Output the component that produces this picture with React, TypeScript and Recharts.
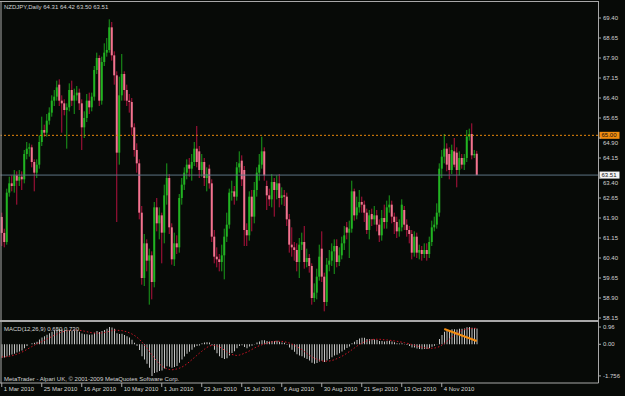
import React from 'react';
import { ComposedChart, Bar, Line, XAxis, YAxis, ReferenceLine } from 'recharts';

// NZDJPY daily candles, 1 Mar 2010 .. late Nov 2010
const opens = [
  61.94, 61.34, 61.0, 62.85, 63.2, 63.1, 63.5, 63.3, 63.45, 63.35, 64.3, 64.5, 64.55, 64.0, 63.6, 63.9,
  64.75, 65.2, 65.1, 65.55, 65.85, 66.3, 66.45, 66.9, 66.3, 66.2, 65.95, 66.05, 66.7, 66.3, 66.5, 66.6,
  66.2, 65.3, 65.65, 66.3, 66.05, 66.45, 67.45, 67.9, 66.3, 67.75, 68.1, 68.2, 69.05, 68.0, 67.25, 64.35,
  66.5, 67.3, 66.7, 66.3, 66.25, 65.3, 64.45, 63.95, 62.1, 59.65, 60.95, 60.3, 60.5, 59.5, 62.3, 61.7,
  62.0, 61.35, 62.75, 63.4, 61.55, 60.35, 60.95, 60.8, 62.65, 63.15, 63.6, 63.9, 63.75, 64.0, 64.5, 64.4,
  63.7, 64.0, 63.4, 63.75, 63.2, 61.2, 60.45, 60.35, 60.25, 60.5, 61.2, 61.65, 62.85, 62.9, 62.7, 63.8,
  64.05, 63.7, 61.45, 61.25, 62.7, 61.95, 62.95, 63.6, 63.9, 64.4, 63.1, 62.75, 62.6, 63.25, 62.95, 63.2,
  62.65, 62.75, 62.7, 61.85, 60.9, 60.8, 60.7, 60.25, 60.9, 61.0, 60.25, 60.4, 60.1, 58.9, 59.1, 59.7,
  60.75, 59.7, 58.75, 60.15, 60.3, 60.65, 60.85, 60.25, 60.5, 60.95, 61.55, 61.35, 61.5, 62.9, 62.0, 62.3,
  62.5, 62.4, 62.1, 61.45, 62.05, 61.85, 62.0, 61.65, 61.25, 61.9, 61.75, 62.3, 62.4, 61.95, 61.75, 61.4,
  61.55, 62.2, 61.65, 61.45, 61.3, 60.6, 61.2, 60.6, 60.7, 60.55, 60.7, 60.55, 61.0, 61.55, 61.65, 62.1,
  63.75, 64.2, 64.5, 64.3, 63.7, 64.4, 64.35, 63.7, 64.15, 63.9, 64.15, 64.95, 65.05, 64.25, 64.31,
];
const highs = [
  62.1, 61.5, 63.0, 63.45, 63.5, 63.7, 63.65, 63.7, 63.65, 64.45, 64.75, 64.7, 64.65, 64.1, 64.1, 65.0,
  65.7, 65.4, 65.8, 66.05, 66.5, 66.7, 67.05, 67.1, 66.5, 66.35, 66.2, 66.95, 67.05, 66.75, 66.85, 66.75,
  66.35, 65.9, 66.55, 66.6, 66.6, 67.6, 68.1, 68.0, 67.95, 68.45, 68.65, 69.35, 69.25, 68.15, 67.4, 67.2,
  68.05, 67.4, 66.9, 66.55, 66.4, 65.45, 64.7, 64.1, 62.35, 61.3, 61.1, 60.75, 60.65, 62.5, 62.65, 62.3,
  62.1, 63.15, 63.95, 63.55, 61.7, 61.35, 61.25, 62.8, 63.4, 63.8, 64.1, 64.15, 64.3, 64.75, 65.35, 64.6,
  64.3, 64.15, 63.8, 63.9, 63.35, 61.45, 60.8, 60.55, 60.9, 61.5, 62.1, 63.0, 63.3, 63.1, 64.0, 64.4,
  64.25, 63.85, 61.7, 62.9, 62.95, 63.25, 63.8, 64.3, 64.95, 64.55, 63.3, 63.0, 63.55, 63.4, 63.5, 63.55,
  63.05, 62.95, 62.85, 62.05, 61.55, 61.0, 60.95, 61.15, 61.35, 61.6, 60.75, 60.55, 60.2, 59.45, 60.0, 60.9,
  61.4, 59.85, 60.4, 60.7, 60.95, 61.1, 61.1, 60.8, 61.2, 61.6, 61.75, 61.8, 63.3, 63.0, 62.7, 62.95,
  62.7, 62.55, 62.25, 62.2, 62.25, 62.35, 62.2, 61.85, 62.2, 62.4, 62.55, 62.75, 62.55, 62.1, 61.95, 61.85,
  62.6, 62.35, 61.85, 61.6, 61.45, 61.4, 61.35, 60.9, 60.85, 60.95, 60.95, 61.2, 61.8, 61.95, 62.45, 63.95,
  64.45, 65.05, 64.7, 64.55, 64.65, 64.9, 64.55, 64.4, 64.3, 64.3, 65.2, 65.25, 65.45, 64.45, 64.42,
];
const lows = [
  60.85, 60.8, 60.9, 62.7, 62.9, 62.85, 62.4, 63.1, 62.95, 63.2, 64.1, 64.2, 63.8, 62.9, 63.4, 63.75,
  64.6, 64.95, 64.95, 65.4, 65.7, 66.1, 66.3, 66.1, 65.1, 65.75, 64.5, 65.9, 66.1, 65.8, 66.3, 65.95,
  64.45, 64.9, 65.5, 65.8, 65.9, 66.3, 67.3, 66.1, 66.15, 67.6, 67.95, 68.1, 67.8, 66.9, 61.75, 63.9,
  66.3, 66.3, 66.1, 65.85, 65.0, 64.2, 63.6, 61.85, 59.4, 59.35, 59.9, 58.65, 58.85, 59.3, 61.4, 61.1,
  60.2, 60.95, 62.4, 61.3, 60.15, 60.1, 60.55, 60.6, 62.4, 62.95, 63.35, 63.45, 63.3, 63.85, 63.8, 63.4,
  63.45, 63.1, 62.9, 63.0, 61.0, 60.2, 60.05, 59.9, 59.9, 59.6, 61.0, 61.5, 62.55, 62.4, 62.55, 63.6,
  63.1, 60.85, 60.85, 61.05, 61.4, 61.7, 62.7, 63.3, 63.75, 63.3, 62.2, 62.35, 62.3, 61.95, 62.6, 62.3,
  62.4, 62.35, 61.6, 60.6, 60.45, 60.3, 59.9, 59.65, 60.7, 60.0, 60.05, 59.85, 58.65, 58.75, 58.85, 59.55,
  59.5, 58.4, 58.6, 59.9, 60.1, 59.8, 60.05, 60.1, 60.35, 60.7, 61.1, 60.4, 61.35, 61.8, 61.85, 62.1,
  62.1, 61.75, 61.3, 61.1, 61.6, 61.65, 61.4, 61.0, 61.05, 61.5, 61.5, 62.1, 61.7, 61.3, 61.15, 61.2,
  61.4, 61.45, 61.2, 60.95, 60.35, 60.45, 60.4, 60.35, 60.3, 60.4, 60.3, 60.4, 60.85, 61.4, 61.5, 61.95,
  63.4, 63.95, 63.65, 63.35, 63.55, 63.8, 63.05, 63.5, 63.75, 63.7, 64.0, 64.8, 64.1, 64.15, 63.5,
];
const closes = [
  61.34, 61.0, 62.85, 63.2, 63.1, 63.5, 63.3, 63.45, 63.35, 64.3, 64.5, 64.55, 64.0, 63.6, 63.9, 64.75,
  65.2, 65.1, 65.55, 65.85, 66.3, 66.45, 66.8, 66.3, 66.2, 65.95, 66.05, 66.7, 66.3, 66.5, 66.6, 66.2,
  65.3, 65.65, 66.3, 66.05, 66.45, 67.45, 67.9, 66.3, 67.75, 68.1, 68.2, 69.05, 68.0, 67.25, 64.35, 66.5,
  67.3, 66.7, 66.3, 66.25, 65.3, 64.45, 63.95, 62.1, 59.65, 60.95, 60.3, 60.5, 59.5, 62.3, 61.7, 62.0,
  61.35, 62.75, 63.4, 61.55, 60.35, 60.95, 60.8, 62.65, 63.15, 63.6, 63.9, 63.75, 64.0, 64.5, 64.0, 63.7,
  64.0, 63.4, 63.55, 63.2, 61.2, 60.45, 60.35, 60.25, 60.5, 61.2, 61.65, 62.85, 62.9, 62.7, 63.8, 63.95,
  63.35, 61.45, 61.25, 62.7, 61.95, 62.95, 63.6, 63.9, 64.4, 63.5, 62.75, 62.6, 63.25, 62.95, 63.2, 62.65,
  62.75, 62.7, 61.85, 60.9, 60.8, 60.7, 60.25, 60.9, 61.0, 60.25, 60.4, 60.1, 58.9, 59.1, 59.7, 60.45,
  59.7, 58.75, 60.15, 60.3, 60.65, 60.85, 60.25, 60.5, 60.95, 61.25, 61.35, 61.5, 62.9, 62.0, 62.3, 62.5,
  62.4, 62.1, 61.45, 62.0, 61.85, 62.0, 61.65, 61.25, 61.9, 61.75, 62.3, 62.4, 61.95, 61.75, 61.4, 61.55,
  62.4, 61.65, 61.45, 61.3, 60.6, 61.2, 60.6, 60.7, 60.55, 60.7, 60.55, 61.0, 61.55, 61.65, 62.1, 63.75,
  64.2, 64.5, 63.9, 63.7, 64.45, 63.9, 63.7, 64.15, 63.9, 64.15, 64.95, 65.05, 64.25, 64.3, 63.51,
];

// MACD(12,26,9): main line drawn as histogram, signal as dotted line
const macdMain = [
  -0.75, -0.73, -0.68, -0.62, -0.57, -0.52, -0.46, -0.4, -0.34, -0.22, -0.1, 0.0, 0.06, 0.08, 0.14, 0.26,
  0.38, 0.45, 0.53, 0.61, 0.7, 0.77, 0.84, 0.84, 0.82, 0.78, 0.76, 0.78, 0.76, 0.75, 0.74, 0.7,
  0.6, 0.56, 0.56, 0.53, 0.55, 0.64, 0.74, 0.68, 0.74, 0.8, 0.86, 0.96, 0.93, 0.86, 0.62, 0.57,
  0.58, 0.52, 0.45, 0.38, 0.25, 0.08, -0.08, -0.32, -0.66, -0.85, -1.08, -1.3, -1.756, -1.6, -1.55, -1.48,
  -1.45, -1.35, -1.22, -1.25, -1.3, -1.26, -1.2, -1.02, -0.85, -0.68, -0.52, -0.42, -0.3, -0.16, -0.1, -0.06,
  0.06, 0.1, 0.12, 0.1, -0.05, -0.3, -0.5, -0.66, -0.76, -0.82, -0.78, -0.62, -0.48, -0.38, -0.22, -0.1,
  -0.05, -0.15, -0.22, -0.12, -0.08, 0.02, 0.1, 0.16, 0.22, 0.22, 0.18, 0.16, 0.18, 0.18, 0.2, 0.14,
  0.1, 0.08, -0.02, -0.18, -0.3, -0.42, -0.55, -0.62, -0.66, -0.75, -0.82, -0.9, -1.02, -1.08, -1.04, -0.95,
  -0.92, -0.98, -0.9, -0.82, -0.72, -0.62, -0.58, -0.5, -0.4, -0.3, -0.2, -0.12, 0.06, 0.14, 0.24, 0.32,
  0.36, 0.36, 0.3, 0.3, 0.28, 0.27, 0.24, 0.18, 0.18, 0.16, 0.18, 0.2, 0.16, 0.12, 0.06, 0.04,
  0.06, 0.02, -0.04, -0.1, -0.18, -0.18, -0.24, -0.26, -0.28, -0.26, -0.26, -0.22, -0.14, -0.08, 0.02, 0.3,
  0.52, 0.7, 0.74, 0.76, 0.84, 0.84, 0.82, 0.86, 0.86, 0.88, 0.94, 0.96, 0.92, 0.9, 0.88,
];
const macdSignal = [
  -0.7, -0.7, -0.69, -0.67, -0.64, -0.6, -0.55, -0.5, -0.44, -0.37, -0.29, -0.21, -0.13, -0.05, 0.02, 0.09,
  0.15, 0.22, 0.29, 0.36, 0.43, 0.5, 0.57, 0.63, 0.68, 0.72, 0.75, 0.77, 0.78, 0.79, 0.79, 0.78,
  0.76, 0.73, 0.7, 0.67, 0.64, 0.62, 0.62, 0.62, 0.63, 0.65, 0.68, 0.72, 0.76, 0.79, 0.78, 0.77,
  0.76, 0.73, 0.7, 0.64, 0.58, 0.5, 0.4, 0.28, 0.14, -0.02, -0.2, -0.38, -0.58, -0.76, -0.93, -1.08,
  -1.2, -1.3, -1.36, -1.4, -1.42, -1.4, -1.37, -1.33, -1.27, -1.19, -1.09, -0.98, -0.86, -0.74, -0.62, -0.5,
  -0.39, -0.28, -0.18, -0.1, -0.06, -0.06, -0.08, -0.14, -0.22, -0.32, -0.42, -0.5, -0.56, -0.6, -0.62, -0.6,
  -0.56, -0.5, -0.44, -0.37, -0.29, -0.21, -0.14, -0.08, -0.03, 0.02, 0.06, 0.1, 0.13, 0.16, 0.17, 0.17,
  0.16, 0.14, 0.11, 0.07, 0.02, -0.05, -0.13, -0.21, -0.3, -0.4, -0.5, -0.6, -0.69, -0.77, -0.83, -0.88,
  -0.92, -0.94, -0.94, -0.93, -0.9, -0.86, -0.8, -0.74, -0.67, -0.59, -0.5, -0.41, -0.31, -0.21, -0.11, -0.02,
  0.06, 0.13, 0.19, 0.23, 0.26, 0.28, 0.28, 0.28, 0.27, 0.25, 0.24, 0.23, 0.21, 0.19, 0.17, 0.14,
  0.12, 0.09, 0.06, 0.03, -0.01, -0.05, -0.09, -0.13, -0.16, -0.19, -0.21, -0.22, -0.22, -0.21, -0.18, -0.13,
  -0.05, 0.05, 0.16, 0.28, 0.4, 0.51, 0.61, 0.7, 0.76, 0.81, 0.85, 0.87, 0.88, 0.89, 0.89,
];

const dateTickIndex = [0, 16, 32, 48, 64, 80, 96, 112, 128, 144, 160, 176];
const dateTickLabels = [
  '1 Mar 2010', '25 Mar 2010', '16 Apr 2010', '10 May 2010', '1 Jun 2010', '23 Jun 2010',
  '15 Jul 2010', '6 Aug 2010', '30 Aug 2010', '21 Sep 2010', '13 Oct 2010', '4 Nov 2010',
];
const priceTicks = [
  58.15, 58.9, 59.65, 60.4, 61.15, 61.9, 62.65, 63.4, 64.15, 64.9, 65.65, 66.4, 67.15, 67.9, 68.65, 69.4,
];
const macdTicks = [0.96, 0, -1.756];
const macdTickLabels = ['0.96', '0.00', '-1.756'];

const levelLine = 65.0;
const lastPrice = 63.51;
const macdTrend = [
  { x: 177, y: 0.85 },
  { x: 190, y: 0.18 },
];
const shiftBars = 48; // empty space MT4 leaves right of the last bar

const rows = [];
for (let i = 0; i < closes.length + shiftBars; i++) {
  if (i < closes.length) {
    rows.push({ i, o: opens[i], h: highs[i], l: lows[i], c: closes[i], macd: macdMain[i], signal: macdSignal[i] });
  } else {
    rows.push({ i });
  }
}

const BG = '#070a07';
const FRAME = '#a8a8a8';
const TXT = '#d4d4d4';
const FONT = 'Liberation Sans, Arial, sans-serif';
const W = 625;
const AXIS_W = 27;
const MARGIN = { top: 3, right: 0, bottom: 1, left: 0.5 };

const Candle = (props: any) => {
  const { x, y, width, height, payload } = props;
  if (!payload || payload.c == null || !isFinite(y) || !isFinite(height)) return null;
  const top = Math.min(y, y + height);
  const span = Math.abs(height);
  const range = payload.h - payload.l;
  const ppu = range > 0 ? span / range : 0;
  const cx = x + width / 2;
  const yo = top + (payload.h - payload.o) * ppu;
  const yc = top + (payload.h - payload.c) * ppu;
  const up = payload.c >= payload.o;
  const wick = up ? '#1b9e1b' : '#b3123f';
  const body = up ? '#22b422' : '#f27590';
  return (
    <g>
      <line x1={cx} x2={cx} y1={top} y2={top + span} stroke={wick} strokeWidth={1} />
      <rect x={cx - 1} width={2} y={Math.min(yo, yc)} height={Math.max(1, Math.abs(yc - yo))} fill={body} />
    </g>
  );
};

// labels sitting under a price box are pushed just below it, as MT4 shows them peeking out
const PriceTick = (props: any) => {
  const { x, y, payload } = props;
  const v = Number(payload.value);
  const covered = Math.abs(v - levelLine) < 0.2 || Math.abs(v - lastPrice) < 0.2;
  return (
    <g>
      <line x1={x} x2={x + 3} y1={y} y2={y} stroke={FRAME} />
      <text x={x + 5} y={y + (covered ? 6.5 : 2)} fontSize={6} fill={TXT} fontFamily={FONT}>
        {v.toFixed(2)}
      </text>
    </g>
  );
};

const MacdTick = (props: any) => {
  const { x, y, payload, index } = props;
  return (
    <g>
      <line x1={x} x2={x + 3} y1={y} y2={y} stroke={FRAME} />
      <text x={x + 5} y={y + 2} fontSize={6} fill={TXT} fontFamily={FONT}>
        {macdTickLabels[index] ?? String(payload.value)}
      </text>
    </g>
  );
};

const DateTick = (props: any) => {
  const { x, y, payload } = props;
  const k = dateTickIndex.indexOf(payload.value);
  return (
    <g>
      <line x1={x} x2={x} y1={y} y2={y + 4} stroke={FRAME} />
      <text x={x + 2} y={y + 8} fontSize={6} fill={TXT} fontFamily={FONT}>
        {dateTickLabels[k]}
      </text>
    </g>
  );
};

const PriceBox = (props: any) => {
  const { viewBox, text, fill, color } = props;
  if (!viewBox) return null;
  const left = viewBox.x + viewBox.width + 1.5;
  return (
    <g>
      <rect x={left} y={viewBox.y - 3.5} width={20} height={7} fill={fill} />
      <text x={left + 2} y={viewBox.y + 2} fontSize={6} fill={color} fontFamily={FONT}>
        {text}
      </text>
    </g>
  );
};

export default function App() {
  return (
    <div style={{ position: 'absolute', left: 0, top: 0, width: W, height: 396, background: BG, overflow: 'hidden' }}>
      <div style={{ position: 'absolute', left: 0, top: 0 }}>
        <ComposedChart width={W} height={322} data={rows} margin={MARGIN}>
          <XAxis dataKey="i" type="category" hide />
          <YAxis
            orientation="right"
            width={AXIS_W}
            type="number"
            domain={[58.0375, 69.9625]}
            allowDataOverflow
            ticks={priceTicks}
            interval={0}
            axisLine={false}
            tickLine={false}
            tickSize={0}
            tickMargin={0}
            tick={<PriceTick />}
          />
          <ReferenceLine
            y={levelLine}
            stroke="#e8870a"
            strokeDasharray="2 2"
            label={<PriceBox text="65.00" fill="#f28c0f" color="#101010" />}
          />
          <ReferenceLine
            y={lastPrice}
            stroke="#5d7384"
            label={<PriceBox text="63.51" fill="#f4f4f4" color="#101010" />}
          />
          <Bar
            dataKey={(d: any) => (d.c == null ? null : [d.l, d.h])}
            shape={<Candle />}
            isAnimationActive={false}
          />
        </ComposedChart>
      </div>
      <div style={{ position: 'absolute', left: 0, top: 322 }}>
        <ComposedChart width={W} height={74} data={rows} margin={{ top: 1, right: 0, bottom: 0, left: 0.5 }}>
          <XAxis
            dataKey="i"
            type="category"
            height={13}
            ticks={dateTickIndex}
            interval={0}
            axisLine={false}
            tickLine={false}
            tickSize={0}
            tickMargin={0}
            tick={<DateTick />}
          />
          <YAxis
            orientation="right"
            width={AXIS_W}
            type="number"
            domain={[-2.15, 1.183]}
            allowDataOverflow
            ticks={macdTicks}
            interval={0}
            axisLine={false}
            tickLine={false}
            tickSize={0}
            tickMargin={0}
            tick={<MacdTick />}
          />
          <Bar dataKey="macd" fill="#c4c4c4" barSize={1} isAnimationActive={false} />
          <Line
            dataKey="signal"
            stroke="#d01425"
            strokeWidth={1}
            strokeDasharray="1.5 2"
            dot={false}
            isAnimationActive={false}
          />
          <ReferenceLine segment={macdTrend} stroke="#f28c0f" strokeWidth={2} ifOverflow="visible" />
        </ComposedChart>
      </div>
      <svg width={W} height={396} style={{ position: 'absolute', left: 0, top: 0, pointerEvents: 'none' }}>
        <line x1={0} x2={598.5} y1={1.5} y2={1.5} stroke={FRAME} />
        <line x1={1} x2={1} y1={1} y2={383} stroke={FRAME} />
        <line x1={598.5} x2={598.5} y1={1} y2={383} stroke={FRAME} />
        <line x1={0} x2={598.5} y1={321} y2={321} stroke={FRAME} strokeWidth={2} />
        <line x1={0} x2={598.5} y1={383} y2={383} stroke={FRAME} />
        <text x={4} y={9} fontSize={6} fill={TXT} fontFamily={FONT}>
          NZDJPY,Daily  64.31 64.42 63.50 63.51
        </text>
        <text x={4} y={331} fontSize={6} fill={TXT} fontFamily={FONT}>
          MACD(12,26,9) 0.650 0.730
        </text>
        <text x={4} y={381} fontSize={6} fill={TXT} fontFamily={FONT}>
          MetaTrader - Alpari UK, © 2001-2009 MetaQuotes Software Corp.
        </text>
      </svg>
    </div>
  );
}
